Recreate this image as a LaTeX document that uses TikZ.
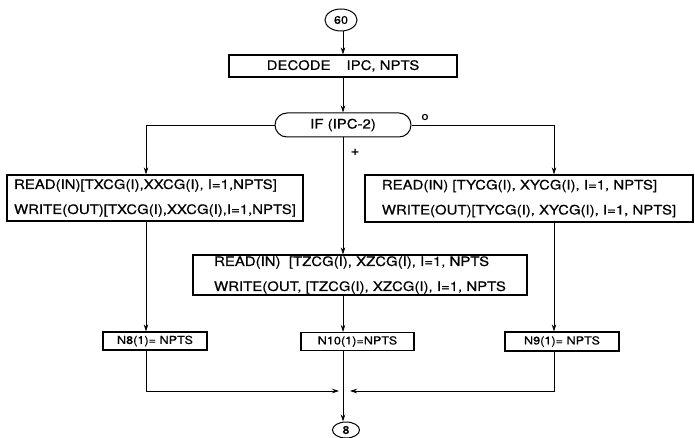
\documentclass[tikz,border=0pt]{standalone}
\usepackage{fontspec}
\setmainfont[FakeStretch=1.15, FakeBold=0.6]{TeX Gyre Heros}
\usetikzlibrary{shapes.geometric,shapes.misc,arrows.meta}
\begin{document}
\begin{tikzpicture}[x=1pt,y=-1pt,
  every node/.style={font=\fontsize{13}{25}\selectfont, inner sep=0pt, align=left},
  box/.style={draw, line width=1.2pt, rectangle},
  small/.style={font=\fontsize{11}{13}\selectfont},
  term/.style={draw, line width=1pt, ellipse, font=\fontsize{11}{13}\selectfont},
  decision/.style={draw, line width=1pt, rounded rectangle},
  conn/.style={line width=0.7pt},
  arr/.style={conn, -{Stealth[length=7pt,width=4.5pt]}}]
\useasboundingbox (0,0) rectangle (695,438);
\coordinate (lx) at (146,0);
\coordinate (rx) at (554,0);
\coordinate (cx) at (343,0);

\node[term, minimum width=32pt, minimum height=22pt] (c60) at (341,20) {60};
\node[box, minimum width=228pt, minimum height=22pt] (dec) at (343,66) {DECODE\hspace{16pt}IPC,\ NPTS};
\node[decision, minimum width=136pt, minimum height=24pt] (ifb) at (343,125) {IF (IPC-2)};
\node[box, minimum width=296pt, minimum height=46pt] (lbox) at (155,198)
  {READ(IN)[TXCG(I),XXCG(I), I=1,NPTS]\\WRITE(OUT)[TXCG(I),XXCG(I),I=1,NPTS]};
\node[box, minimum width=328pt, minimum height=47pt] (rbox) at (529,198.5)
  {READ(IN) [TYCG(I), XYCG(I), I=1, NPTS]\\WRITE(OUT)[TYCG(I), XYCG(I), I=1, NPTS]};
\node[box, minimum width=334pt, minimum height=40pt] (mbox) at (360,275)
  {READ(IN)\ \ [TZCG(I), XZCG(I), I=1, NPTS\\WRITE(OUT, [TZCG(I), XZCG(I), I=1, NPTS};
\node[box, small, minimum width=104pt, minimum height=18pt] (n8) at (155,341) {N8(1)= NPTS};
\node[box, small, minimum width=113pt, minimum height=18pt] (n10) at (357.5,341.5) {N10(1)=NPTS};
\node[box, small, minimum width=114pt, minimum height=19pt] (n9) at (562,341.5) {N9(1)= NPTS};
\node[term, minimum width=27pt, minimum height=16pt] (c8) at (346,430) {8};

\node[small] (zero) at (425,117) {o};
\node (plus) at (355,152) {+};

\coordinate (mL) at (339,391);
\coordinate (mR) at (350,391);

\draw[arr] (c60.south -| cx) -- (dec.north -| cx);
\draw[arr] (dec.south -| cx) -- (ifb.north -| cx);
\draw[arr] (ifb.west) -| (lbox.north -| lx);
\draw[arr] (ifb.east) -| (rbox.north -| rx);
\draw[arr] (ifb.south -| cx) -- (mbox.north -| cx);
\draw[arr] (lbox.south -| lx) -- (n8.north -| lx);
\draw[arr] (rbox.south -| rx) -- (n9.north -| rx);
\draw[arr] (mbox.south -| cx) -- (n10.north -| cx);
\draw[arr] (n8.south -| lx) |- (mL);
\draw[arr] (n9.south -| rx) |- (mR);
\draw[arr] (n10.south -| cx) -- (c8.north -| cx);
\end{tikzpicture}
\end{document}
